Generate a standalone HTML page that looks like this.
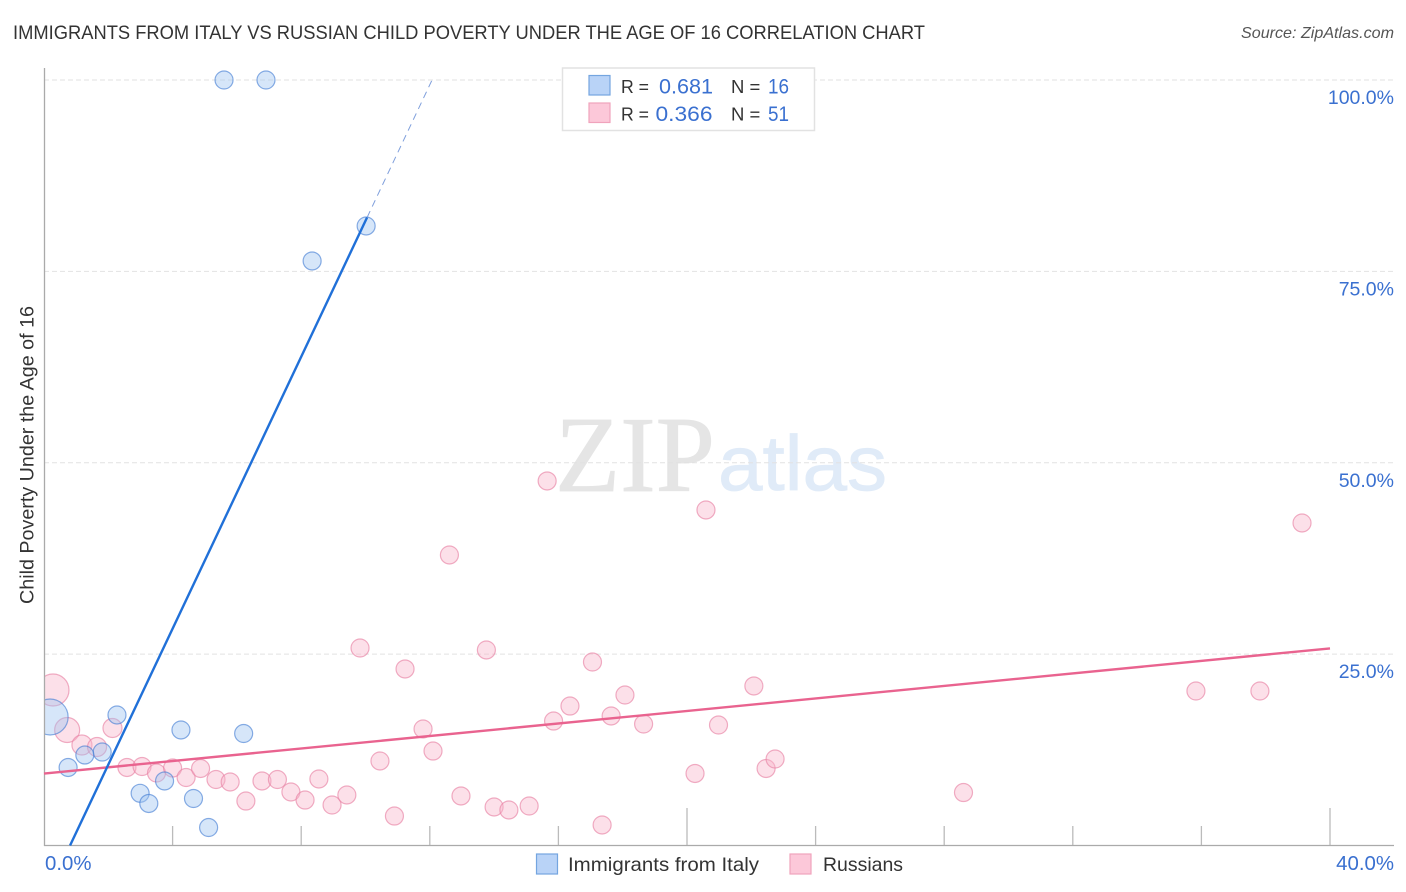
<!DOCTYPE html>
<html lang="en">
<head>
<meta charset="utf-8">
<title>Immigrants from Italy vs Russian Child Poverty Correlation Chart</title>
<style>
html,body{margin:0;padding:0;background:#fff;width:1406px;height:892px;overflow:hidden}
svg{display:block}
text{font-family:"Liberation Sans",sans-serif}
</style>
</head>
<body>
<svg id="chart" xmlns="http://www.w3.org/2000/svg" width="1406" height="892" viewBox="0 0 1406 892">
  <rect width="1406" height="892" fill="#fff"/>
  <text x="13" y="39" font-size="19.5" fill="#333" textLength="912" lengthAdjust="spacingAndGlyphs">IMMIGRANTS FROM ITALY VS RUSSIAN CHILD POVERTY UNDER THE AGE OF 16 CORRELATION CHART</text>
  <text x="1394" y="38" font-size="16" font-style="italic" fill="#555" text-anchor="end" textLength="153" lengthAdjust="spacingAndGlyphs">Source: ZipAtlas.com</text>
  <g>
    <text x="555" y="491" font-size="108" fill="#e5e5e5" stroke="#e5e5e5" stroke-width="0.8" textLength="160" lengthAdjust="spacingAndGlyphs" style="font-family:'Liberation Serif',serif">ZIP</text>
    <text x="718" y="490" font-size="78" fill="#e0ebf8" stroke="#e0ebf8" stroke-width="0.8" textLength="169" lengthAdjust="spacingAndGlyphs">atlas</text>
  </g>
  <g id="grid"></g>
  <g id="points"></g>
  <rect x="0" y="600" width="44.5" height="200" fill="#fff"/>
  <g id="axes"></g>
  <g id="marks"></g>
  <text transform="translate(33.5,455) rotate(-90)" font-size="19" fill="#333" text-anchor="middle" textLength="298" lengthAdjust="spacingAndGlyphs">Child Poverty Under the Age of 16</text>
  <g>
    <rect x="562.5" y="68" width="252" height="62.5" fill="#fff" stroke="#e2e2e2" stroke-width="1.5"/>
    <rect x="589" y="75.5" width="21" height="19.5" fill="#b9d3f7" stroke="#74a5e0" stroke-width="1.2"/>
    <rect x="589" y="103" width="21" height="19.5" fill="#fcc8d9" stroke="#f0a3bc" stroke-width="1.2"/>
    <text x="621" y="93" font-size="18.5" fill="#333" textLength="28" lengthAdjust="spacingAndGlyphs">R =</text>
    <text x="659" y="93.5" font-size="21" fill="#3a70d0" textLength="54" lengthAdjust="spacingAndGlyphs">0.681</text>
    <text x="731" y="93" font-size="18.5" fill="#333">N =</text>
    <text x="768" y="93.5" font-size="21" fill="#3a70d0" textLength="21" lengthAdjust="spacingAndGlyphs">16</text>
    <text x="621" y="120.5" font-size="18.5" fill="#333" textLength="28" lengthAdjust="spacingAndGlyphs">R =</text>
    <text x="655.5" y="121" font-size="21" fill="#3a70d0" textLength="57" lengthAdjust="spacingAndGlyphs">0.366</text>
    <text x="731" y="120.5" font-size="18.5" fill="#333">N =</text>
    <text x="768" y="121" font-size="21" fill="#3a70d0" textLength="21" lengthAdjust="spacingAndGlyphs">51</text>
  </g>
  <g>
    <rect x="536.5" y="854" width="21" height="20" fill="#b9d3f7" stroke="#74a5e0" stroke-width="1.2"/>
    <text x="568" y="871" font-size="19.5" fill="#333" textLength="191" lengthAdjust="spacingAndGlyphs">Immigrants from Italy</text>
    <rect x="790" y="854" width="21" height="20" fill="#fcc8d9" stroke="#f0a3bc" stroke-width="1.2"/>
    <text x="823" y="871" font-size="19.5" fill="#333" textLength="80" lengthAdjust="spacingAndGlyphs">Russians</text>
  </g>
</svg>
<script>
// Data (percent units)
const yTickValues = [25, 50, 75, 100];
const yTickLabels = ['25.0%', '50.0%', '75.0%', '100.0%'];
const xTickValues = [4, 8, 12, 16, 20, 24, 28, 32, 36, 40];
const xMajorTicks = [20, 40];
const xEndLabels = ['0.0%', '40.0%'];

const italyX = [5.60, 6.905, 10.02, 8.34, 0.19, 2.27, 4.26, 6.21, 1.81, 1.27, 0.75, 3.75, 2.99, 3.26, 4.65, 5.12];
const italyY = [100, 100, 80.93, 76.36, 16.79, 17.05, 15.09, 14.63, 12.21, 11.82, 10.19, 8.43, 6.82, 5.49, 6.14, 2.35];
const italySize = [9, 9, 9, 9, 18, 9, 9, 9, 9, 9, 9, 9, 9, 9, 9, 9];

const russianX = [0.28, 0.72, 1.18, 1.65, 2.13, 2.58, 3.05, 3.50, 4.00, 4.42, 4.87, 5.35, 5.79, 6.28, 6.78, 7.26, 7.68, 8.12, 8.55, 8.96, 9.42, 9.83, 10.45, 10.90, 11.23, 11.79, 12.10, 12.61, 12.97, 13.76, 14.00, 14.46, 15.09, 15.65, 15.85, 16.36, 17.06, 17.36, 17.64, 18.07, 18.65, 20.25, 20.59, 20.98, 22.08, 22.46, 22.74, 28.60, 35.83, 37.82, 39.13];
const russianY = [20.31, 15.09, 13.13, 12.87, 15.35, 10.19, 10.32, 9.47, 10.12, 8.88, 10.06, 8.62, 8.30, 5.81, 8.43, 8.62, 6.99, 5.94, 8.69, 5.29, 6.60, 25.80, 11.04, 3.85, 23.06, 15.22, 12.34, 37.95, 6.47, 25.54, 5.03, 4.64, 5.16, 47.62, 16.26, 18.22, 23.97, 2.68, 16.92, 19.66, 15.87, 9.41, 43.83, 15.74, 20.84, 10.06, 11.30, 6.92, 20.18, 20.18, 42.13];
const russianSize = [16, 12.5, 10, 9.5, 9.5, 9, 9, 9, 9, 9, 9, 9, 9, 9, 9, 9, 9, 9, 9, 9, 9, 9, 9, 9, 9, 9, 9, 9, 9, 9, 9, 9, 9, 9, 9, 9, 9, 9, 9, 9, 9, 9, 9, 9, 9, 9, 9, 9, 9, 9, 9];

const italyTrendX = [0.81, 10.05];
const italyTrendY = [0, 82.05];
const italyTrendDashX = [10.05, 12.07];
const italyTrendDashY = [82.05, 100];
const russianTrendX = [0, 40];
const russianTrendY = [9.4, 25.75];

// Axis functions
const sx = v => 44 + v * 32.15;
const sy = v => 845.5 - v * 7.655;
const NS = 'http://www.w3.org/2000/svg';
function mk(parent, tag, attrs) {
  const el = document.createElementNS(NS, tag);
  for (const k in attrs) el.setAttribute(k, attrs[k]);
  parent.appendChild(el);
  return el;
}
const grid = document.getElementById('grid');
const axes = document.getElementById('axes');
const marks = document.getElementById('marks');
const points = document.getElementById('points');

yTickValues.forEach((v, i) => {
  const line = mk(grid, 'line', {x1: 44, x2: 1394, y1: sy(v), y2: sy(v), stroke: '#e2e2e2', 'stroke-width': 1, 'stroke-dasharray': '5 3'});
  
  
  const t = mk(axes, 'text', {x: 1394, y: sy(v) + 24, 'font-size': 19.5, fill: '#3a70d0', 'text-anchor': 'end'});
  t.textContent = yTickLabels[i];
  
  
});

xTickValues.forEach(v => {
  const top = xMajorTicks.includes(v) ? 808 : 826;
  const tick = mk(axes, 'line', {x1: sx(v), x2: sx(v), y1: top, y2: 845.5, stroke: '#bbb', 'stroke-width': 1.3});
  
  
});

const yAxis = mk(axes, 'line', {x1: 44.5, x2: 44.5, y1: 68, y2: 846, stroke: '#aaa', 'stroke-width': 1.3});


const xAxis = mk(axes, 'line', {x1: 44, x2: 1394, y1: 845.5, y2: 845.5, stroke: '#aaa', 'stroke-width': 1.3});



const xLabelLeft = mk(axes, 'text', {x: 45, y: 870, 'font-size': 20.4, fill: '#3a70d0'});
xLabelLeft.textContent = xEndLabels[0];


const xLabelRight = mk(axes, 'text', {x: 1394, y: 870, 'font-size': 20.4, fill: '#3a70d0', 'text-anchor': 'end'});
xLabelRight.textContent = xEndLabels[1];



russianX.forEach((v, i) => {
  const c = mk(points, 'circle', {cx: sx(v), cy: sy(russianY[i]), r: russianSize[i], fill: 'rgba(248,180,203,0.42)', stroke: 'rgba(232,130,165,0.65)', 'stroke-width': 1.2});
  
  
});
italyX.forEach((v, i) => {
  const c = mk(points, 'circle', {cx: sx(v), cy: sy(italyY[i]), r: italySize[i], fill: 'rgba(158,196,240,0.42)', stroke: 'rgba(60,120,210,0.6)', 'stroke-width': 1.2});
  
  
});

const rt = mk(marks, 'line', {x1: sx(russianTrendX[0]), y1: sy(russianTrendY[0]), x2: sx(russianTrendX[1]), y2: sy(russianTrendY[1]), stroke: '#e9638f', 'stroke-width': 2.4});


const bt = mk(marks, 'line', {x1: sx(italyTrendX[0]), y1: sy(italyTrendY[0]), x2: sx(italyTrendX[1]), y2: sy(italyTrendY[1]), stroke: '#2070d8', 'stroke-width': 2.4});


const bd = mk(marks, 'line', {x1: sx(italyTrendDashX[0]), y1: sy(italyTrendDashY[0]), x2: sx(italyTrendDashX[1]), y2: sy(italyTrendDashY[1]), stroke: '#7f9fdc', 'stroke-width': 1, 'stroke-dasharray': '7 5'});


</script>
</body>
</html>
